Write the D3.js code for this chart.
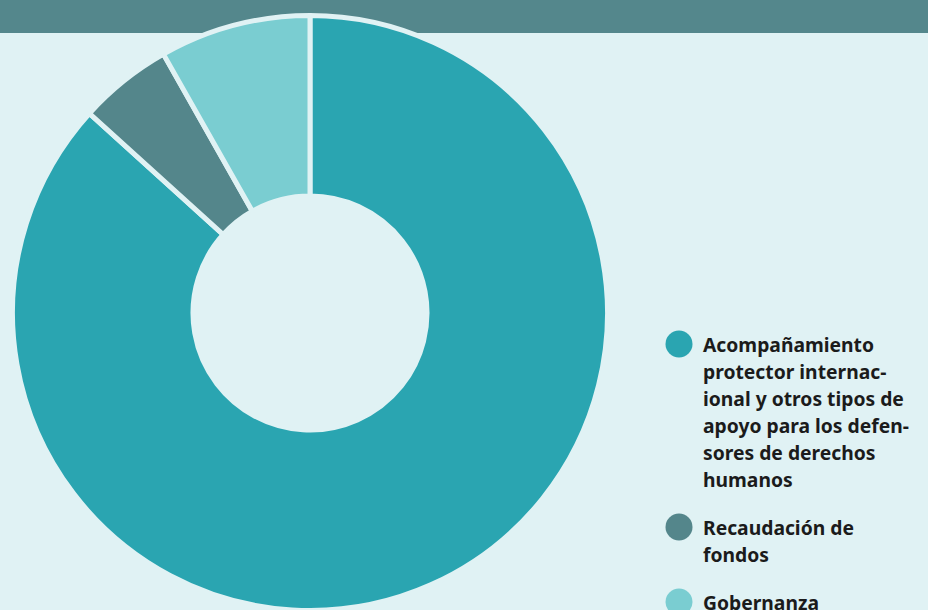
<!DOCTYPE html>
<html>
<head>
<meta charset="utf-8">
<script src="https://cdn.jsdelivr.net/npm/d3@7"></script>
<style>
  body { margin: 0; background: #e0f2f4; }
  svg { display: block; }
  .legendText { font-family: "Noto Sans", sans-serif; font-weight: 700; font-size: 19.3px; fill: #1b1b1b; }
</style>
</head>
<body>
<div id="chart"></div>
<script>
// Shares of spending (percent)
var categories = ['Acompañamiento protector internacional y otros tipos de apoyo para los defensores de derechos humanos',
                  'Recaudación de fondos',
                  'Gobernanza'];
var shares = [86.7, 5.1, 8.2];
// legend labels broken the way the original wraps them
var legendLines = [
  ['Acompañamiento', 'protector internac-', 'ional y otros tipos de', 'apoyo para los defen-', 'sores de derechos', 'humanos'],
  ['Recaudación de', 'fondos'],
  ['Gobernanza']
];
var colors = ['#2aa5b1', '#54868b', '#7acdd1'];

var width = 928,
    height = 610,
    cx = 310, cy = 313,
    outerR = 297.5, innerR = 117,
    lineH = 27;

var svg = d3.select('#chart').append('svg')
  .attr('width', width)
  .attr('height', height);

svg.append('rect')
  .attr('width', width).attr('height', height)
  .attr('fill', '#e0f2f4');

// dark band across the top
svg.append('rect')
  .attr('width', width).attr('height', 33)
  .attr('fill', '#54878c');

var data = categories.map(function (c, i) { return { name: c, value: shares[i], color: colors[i] }; });

var pie = d3.pie().sort(null).value(function (d) { return d.value; });
var arc = d3.arc().innerRadius(innerR).outerRadius(outerR);

var g = svg.append('g').attr('transform', 'translate(' + cx + ',' + cy + ')');
g.selectAll('path')
  .data(pie(data))
  .enter().append('path')
    .attr('d', arc)
    .attr('fill', function (d) { return d.data.color; })
    .attr('stroke', '#e0f2f4')
    .attr('stroke-width', 5)
    .attr('stroke-linejoin', 'round');

// legend
var legendY = [344, 527, 602];
var legend = svg.selectAll('.legend')
  .data(data)
  .enter().append('g')
    .attr('class', 'legend')
    .attr('transform', function (d, i) { return 'translate(679,' + legendY[i] + ')'; });

legend.append('circle')
  .attr('r', 13.5)
  .attr('fill', function (d) { return d.color; });

legend.append('text')
  .attr('class', 'legendText')
  .attr('x', 24)
  .attr('y', 8)
  .selectAll('tspan')
  .data(function (d, i) { return legendLines[i]; })
  .enter().append('tspan')
    .attr('x', 24)
    .attr('dy', function (d, i) { return i === 0 ? 0 : lineH; })
    .text(function (d) { return d; });
</script>
</body>
</html>
